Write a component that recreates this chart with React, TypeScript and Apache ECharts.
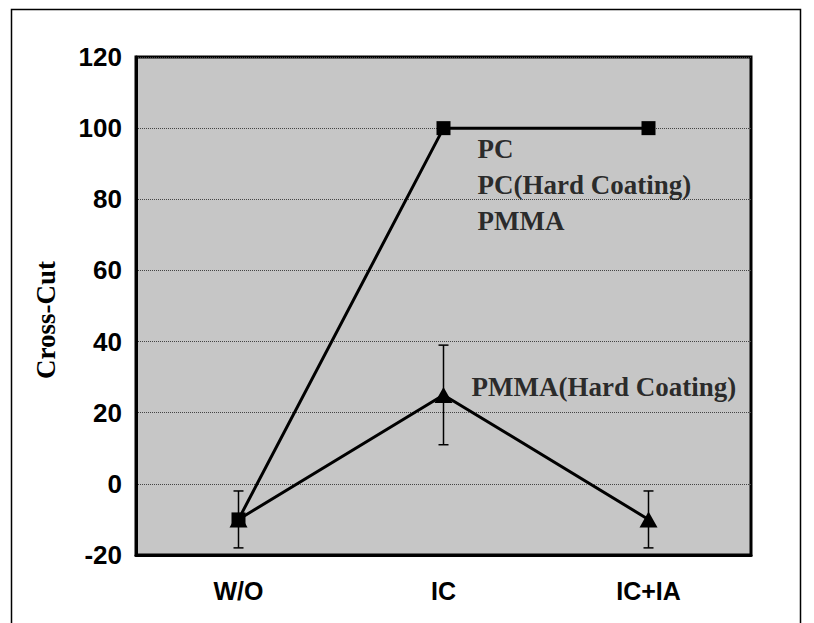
import React, { useEffect, useRef } from "react";
import * as echarts from "echarts";

const categories = ["W/O", "IC", "IC+IA"];
const pcValues = [-10, 100, 100];
const pmmaHcValues = [-10, 25, -10];
const pmmaHcErrLow = [-18, 11, -18];
const pmmaHcErrHigh = [-2, 39, -2];
const yTicks = { min: -20, max: 120, interval: 20 };
const pcLabelLines = ["PC", "PC(Hard Coating)", "PMMA"];
const pmmaHcLabel = "PMMA(Hard Coating)";
const yAxisTitle = "Cross-Cut";

export default function App() {
  const ref = useRef<HTMLDivElement>(null);
  useEffect(() => {
    if (!ref.current) return;
    const chart = echarts.init(ref.current, null, { renderer: "svg" });
    const errData = categories.map((_, i) => [i, pmmaHcErrLow[i], pmmaHcErrHigh[i]]);
    const sans = "'Liberation Sans', Arial, sans-serif";
    const serif = "'Liberation Serif', 'Times New Roman', serif";
    chart.setOption({
      animation: false,
      backgroundColor: "#ffffff",
      grid: {
        left: 136,
        right: 63,
        top: 57,
        bottom: 68,
        show: true,
        backgroundColor: "#c6c6c6",
        borderColor: "#000",
        borderWidth: 3,
      },
      xAxis: {
        type: "category",
        data: categories,
        boundaryGap: true,
        axisLine: { show: true, onZero: false, lineStyle: { color: "#000", width: 3 } },
        axisTick: { show: false },
        axisLabel: {
          color: "#000",
          fontFamily: sans,
          fontWeight: "bold",
          fontSize: 25,
          margin: 23,
        },
        splitLine: { show: false },
      },
      yAxis: {
        type: "value",
        min: yTicks.min,
        max: yTicks.max,
        interval: yTicks.interval,
        axisLine: { show: true, lineStyle: { color: "#000", width: 3 } },
        axisTick: { show: false },
        axisLabel: {
          color: "#000",
          fontFamily: sans,
          fontWeight: "bold",
          fontSize: 26,
          margin: 14,
        },
        splitLine: { show: true, lineStyle: { color: "#444", width: 1, type: "dotted" } },
      },
      graphic: [
        {
          type: "rect",
          left: 9,
          top: 7,
          shape: { width: 789, height: 660 },
          style: { fill: "none", stroke: "#000", lineWidth: 1.5 },
          z: -1,
          silent: true,
        },
        {
          type: "text",
          x: 46,
          y: 320,
          rotation: Math.PI / 2,
          style: {
            text: yAxisTitle,
            fill: "#000",
            font: `bold 27px ${serif}`,
            align: "center",
            verticalAlign: "middle",
          },
        },
      ],
      series: [
        {
          name: "errors",
          type: "custom",
          data: errData,
          z: 1,
          renderItem: (params: any, api: any) => {
            const x = api.value(0);
            const lo = api.coord([x, api.value(1)]);
            const hi = api.coord([x, api.value(2)]);
            const w = 5;
            const style = { stroke: "#000", lineWidth: 1.5 };
            return {
              type: "group",
              children: [
                { type: "line", shape: { x1: lo[0], y1: lo[1], x2: hi[0], y2: hi[1] }, style },
                { type: "line", shape: { x1: lo[0] - w, y1: lo[1], x2: lo[0] + w, y2: lo[1] }, style },
                { type: "line", shape: { x1: hi[0] - w, y1: hi[1], x2: hi[0] + w, y2: hi[1] }, style },
              ],
            };
          },
        },
        {
          name: "PC",
          type: "line",
          data: pcValues,
          symbol: "rect",
          symbolSize: 14,
          z: 3,
          lineStyle: { color: "#000", width: 3 },
          itemStyle: { color: "#000" },
          emphasis: { disabled: true },
        },
        {
          name: "PMMA(Hard Coating)",
          type: "line",
          data: pmmaHcValues,
          symbol: "triangle",
          symbolSize: [18, 16],
          z: 3,
          lineStyle: { color: "#000", width: 3 },
          itemStyle: { color: "#000" },
          emphasis: { disabled: true },
        },
        {
          name: "pcLabel",
          type: "scatter",
          data: [[1, pcValues[1]]],
          symbolSize: 0,
          z: 4,
          label: {
            show: true,
            position: "right",
            distance: 0,
            offset: [34, 57],
            formatter: pcLabelLines.join("\n"),
            color: "#000",
            fontFamily: serif,
            fontWeight: "bold",
            fontSize: 27,
            lineHeight: 36,
            align: "left",
          },
          emphasis: { disabled: true },
        },
        {
          name: "pmmaLabel",
          type: "scatter",
          data: [[1, pmmaHcValues[1]]],
          symbolSize: 0,
          z: 4,
          label: {
            show: true,
            position: "right",
            distance: 0,
            offset: [28, -8],
            formatter: pmmaHcLabel,
            color: "#000",
            fontFamily: serif,
            fontWeight: "bold",
            fontSize: 27,
            align: "left",
          },
          emphasis: { disabled: true },
        },
      ],
    });
    return () => chart.dispose();
  }, []);
  return (
    <div
      ref={ref}
      style={{ position: "absolute", left: 0, top: 0, width: 814, height: 623 }}
    />
  );
}
